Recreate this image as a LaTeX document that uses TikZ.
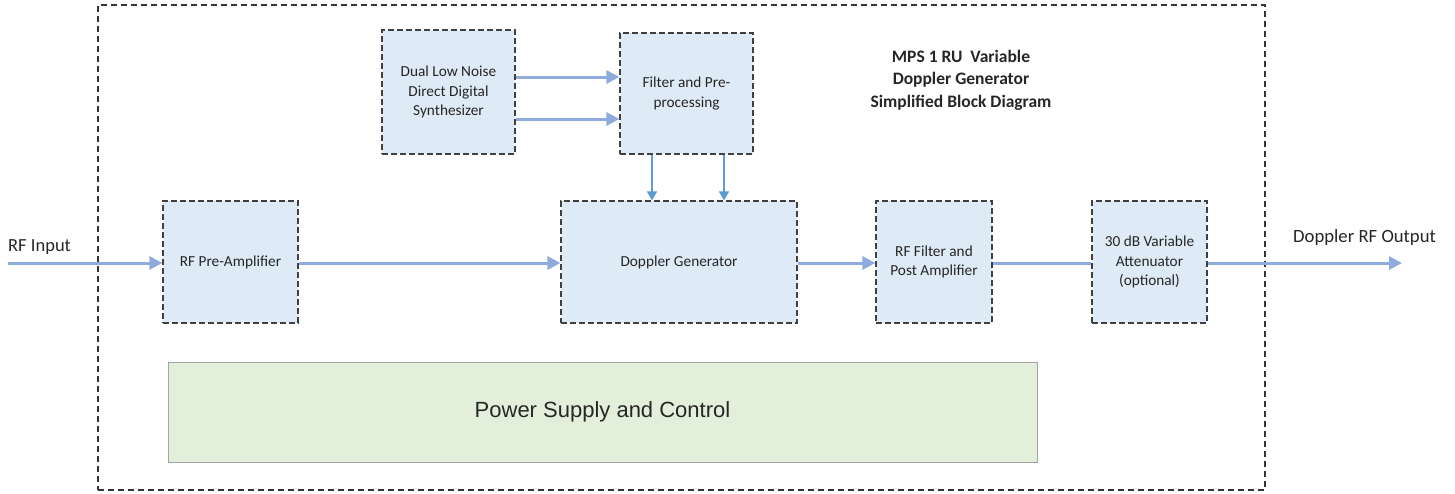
\documentclass[tikz,border=0pt]{standalone}
\usepackage{fontspec}
\setmainfont{Carlito}
\newfontfamily\arialfont{Liberation Sans}
\usetikzlibrary{arrows.meta}
\definecolor{blockfill}{HTML}{DEEAF6}
\definecolor{psfill}{HTML}{E2EFDA}
\definecolor{psline}{HTML}{A5A5A5}
\definecolor{sigline}{HTML}{8FAADC}
\definecolor{ctlline}{HTML}{5B9BD5}
\definecolor{txt}{HTML}{262626}
\tikzset{
  block/.style={draw=black!75, dashed, dash pattern=on 6pt off 3pt, line width=1.2pt,
    fill=blockfill, text=txt, align=center, inner sep=0pt,
    font=\fontsize{15.3}{19.5}\selectfont},
  sigwire/.style={draw=sigline, line width=3pt},
  sig/.style={sigwire, -{Triangle[length=13pt,width=13pt]}},
  ctl/.style={draw=ctlline, line width=1.4pt, -{Triangle[length=9pt,width=10pt]}},
  lbl/.style={text=txt, inner sep=0pt}
}
\begin{document}
\begin{tikzpicture}[x=1pt,y=-1pt]
\useasboundingbox (0,0) rectangle (1455,493);
% enclosure
\node[draw=black!80, dash pattern=on 6pt off 4pt, line width=1.2pt, minimum width=1167pt,
  minimum height=485pt, inner sep=0pt] (frame) at (681.5,247.5) {};
% blocks
\node[block, minimum width=133pt, minimum height=124pt] (dds) at (448.5,92)
  {Dual Low Noise\\Direct Digital\\Synthesizer};
\node[block, minimum width=133pt, minimum height=121pt] (filt) at (686.5,93.5)
  {Filter and Pre-\\processing};
\node[block, minimum width=135pt, minimum height=122pt] (pre) at (230.5,262) {RF Pre-Amplifier};
\node[block, minimum width=236pt, minimum height=122pt] (dop) at (679,262) {Doppler Generator};
\node[block, minimum width=116pt, minimum height=122pt] (post) at (934,262)
  {RF Filter and\\Post Amplifier};
\node[block, minimum width=115pt, minimum height=122pt] (att) at (1149.5,262)
  {30 dB Variable\\Attenuator\\(optional)};
\node[draw=psline, fill=psfill, line width=1pt, minimum width=869pt, minimum height=100pt,
  inner sep=0pt, font=\arialfont\fontsize{22}{25}\selectfont, text=black!85]
  (ps) at (602.5,412) {Power Supply and Control};
% title
\node[align=center, text=txt, font=\bfseries\fontsize{17.5}{22.5}\selectfont] (title) at (961,80)
  {MPS 1 RU\ \ Variable\\Doppler Generator\\Simplified Block Diagram};
% external signal ends
\coordinate (in) at (8,263);
\coordinate (out) at (1402,263);
\node[lbl, anchor=base west, font=\fontsize{18.5}{21}\selectfont] (inlbl) at (8,251) {RF Input};
\node[lbl, anchor=base west, font=\fontsize{18.7}{21}\selectfont] (outlbl) at (1293,242) {Doppler RF Output};
% signal path
\draw[sig] (in) -- (pre.west |- in);
\draw[sig] (pre.east |- in) -- (dop.west |- in);
\draw[sig] (dop.east |- in) -- (post.west |- in);
\draw[sigwire] (post.east |- in) -- (att.west |- in);
\draw[sig] (att.east |- in) -- (out);
% synthesizer outputs
\draw[sig] ([yshift=15pt]dds.east) -- ([yshift=15pt]dds.east -| filt.west);
\draw[sig] ([yshift=-27pt]dds.east) -- ([yshift=-27pt]dds.east -| filt.west);
% processed drive to the Doppler generator
\draw[ctl] (filt.south -| 652,0) -- (dop.north -| 652,0);
\draw[ctl] (filt.south -| 724,0) -- (dop.north -| 724,0);
\end{tikzpicture}
\end{document}
